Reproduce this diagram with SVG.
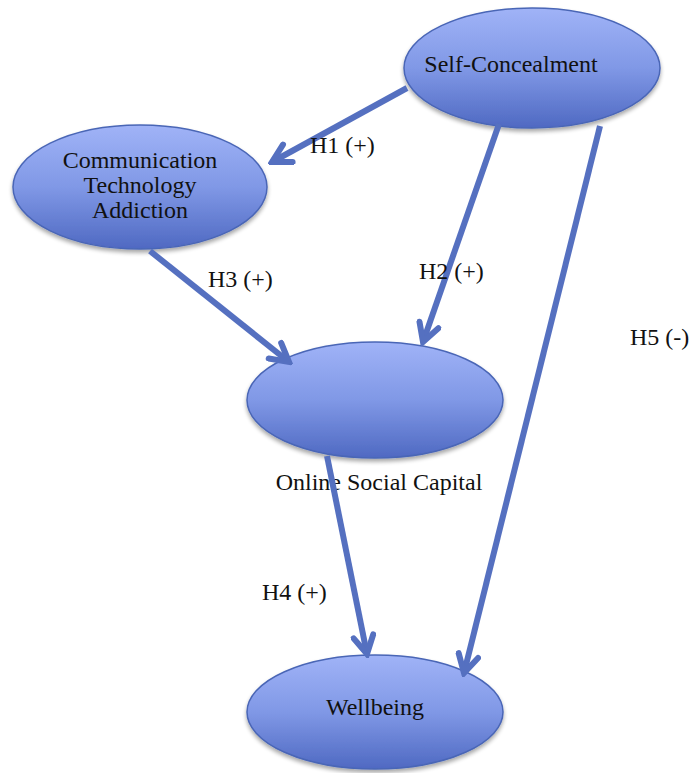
<svg xmlns="http://www.w3.org/2000/svg" width="693" height="773" viewBox="0 0 693 773">
<style>
.node ellipse{fill:url(#g);stroke:#4a66b6;stroke-width:1.5;filter:url(#sh)}
.t{font-family:"Liberation Serif","Times New Roman",serif;font-size:24px;fill:#111;text-anchor:middle}
.lab{font-family:"Liberation Serif","Times New Roman",serif;font-size:24px;fill:#111}
.edge{stroke:#5570c0;stroke-width:6;fill:none;marker-end:url(#ah)}
</style>
<defs>
<linearGradient id="g" x1="0" y1="0" x2="0" y2="1">
<stop offset="0" stop-color="#a0b3f7"/>
<stop offset="0.5" stop-color="#8098e6"/>
<stop offset="1" stop-color="#4f69c2"/>
</linearGradient>
<filter id="sh" x="-10%" y="-10%" width="120%" height="130%">
<feGaussianBlur in="SourceAlpha" stdDeviation="2"/>
<feOffset dx="0" dy="3" result="b"/>
<feComponentTransfer><feFuncA type="linear" slope="0.35"/></feComponentTransfer>
<feMerge><feMergeNode/><feMergeNode in="SourceGraphic"/></feMerge>
</filter>
<marker id="ah" markerUnits="userSpaceOnUse" viewBox="0 0 26 26" refX="22" refY="13" markerWidth="26" markerHeight="26" orient="auto">
<path d="M4,3 L22,13 L4,23" fill="none" stroke="#5570c0" stroke-width="6" stroke-linejoin="miter" stroke-linecap="round"/>
</marker>
</defs>
<rect width="693" height="773" fill="#fff"/>
<g id="self-concealment" class="node">
<ellipse cx="532" cy="68" rx="128" ry="60"/>
<text class="t" x="511" y="72">Self-Concealment</text>
</g>
<g id="cta" class="node">
<ellipse cx="140" cy="187" rx="127" ry="62"/>
<text class="t" x="140" y="168">Communication</text>
<text class="t" x="140" y="193">Technology</text>
<text class="t" x="140" y="218">Addiction</text>
</g>
<g id="osc" class="node">
<ellipse cx="375" cy="400" rx="128" ry="58"/>
<text class="t" x="379" y="490">Online Social Capital</text>
</g>
<g id="wellbeing" class="node">
<ellipse cx="375" cy="712" rx="128" ry="57"/>
<text class="t" x="375" y="715">Wellbeing</text>
</g>
<g id="connectors">
<line class="edge" x1="407" y1="88" x2="272" y2="162"/>
<line class="edge" x1="499" y1="124" x2="423" y2="342"/>
<line class="edge" x1="150" y1="251" x2="289" y2="362"/>
<line class="edge" x1="327" y1="456" x2="367" y2="654"/>
<line class="edge" x1="600" y1="126" x2="464" y2="673"/>
</g>
<g id="labels">
<text class="lab" x="310" y="153">H1 (+)</text>
<text class="lab" x="419" y="279">H2 (+)</text>
<text class="lab" x="208" y="287">H3 (+)</text>
<text class="lab" x="262" y="600">H4 (+)</text>
<text class="lab" x="630" y="345">H5 (-)</text>
</g>
</svg>
